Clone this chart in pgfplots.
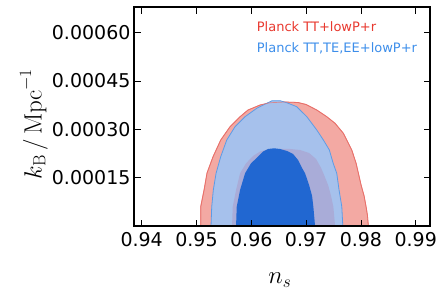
\documentclass[border=0pt]{standalone}
\usepackage{fontspec}
\usepackage{pgfplots}
\pgfplotsset{compat=1.18}
\newfontfamily\dejavu{DejaVu Sans}
\definecolor{redFill}{HTML}{F3A9A3}
\definecolor{redEdge}{HTML}{E8706A}
\definecolor{blueFill}{HTML}{A6C1EC}
\definecolor{blueEdge}{HTML}{5C9CE6}
\definecolor{lav}{HTML}{A9ACD8}
\definecolor{darkBlue}{HTML}{2167D1}
\definecolor{legRed}{HTML}{E8392F}
\definecolor{legBlue}{HTML}{3D8EEA}
\begin{document}
\begin{tikzpicture}
\begin{axis}[
  at={(134pt,74pt)}, anchor=south west,
  scale only axis, width=296pt, height=219pt,
  xmin=0.9386, xmax=0.9926, ymin=0, ymax=0.00068,
  xtick={0.94,0.95,0.96,0.97,0.98,0.99},
  xticklabels={0.94,0.95,0.96,0.97,0.98,0.99},
  ytick={0.00015,0.0003,0.00045,0.0006},
  yticklabels={0.00015,0.00030,0.00045,0.00060},
  scaled y ticks=false, scaled x ticks=false,
  tick align=inside, major tick length=6.5pt,
  tick style={black, line width=0.8pt},
  axis line style={line width=1.5pt},
  ticklabel style={font=\dejavu\fontsize{19}{19}\selectfont},
  xticklabel style={yshift=-2.5pt},
  xlabel={$n_s$},
  ylabel={$k_{\mathrm{B}}\mkern3mu/\mkern3mu\mathrm{Mpc}^{-1}$},
  label style={font=\fontsize{25}{25}\selectfont},
  xlabel style={at={(axis description cs:0.493,-0.262)}, anchor=base},
  ylabel style={at={(axis description cs:-0.312,0.466)}, anchor=base},
  axis on top,
]
% Planck TT+lowP+r, 95%
\addplot[fill=redFill, draw=redEdge, line width=0.8pt] coordinates {
(0.95077,0) (0.95077,5.99e-5) (0.95138,1.118e-4) (0.95192,1.646e-4) (0.95302,2.152e-4)
(0.95442,2.67e-4) (0.95612,3.083e-4) (0.95795,3.394e-4) (0.9594,3.602e-4) (0.9616,3.757e-4)
(0.96342,3.828e-4) (0.96616,3.85e-4) (0.96853,3.835e-4) (0.96999,3.773e-4) (0.97194,3.602e-4)
(0.97377,3.394e-4) (0.97528,3.189e-4) (0.9768,2.878e-4) (0.97742,2.67e-4) (0.97833,2.36e-4)
(0.97912,1.947e-4) (0.97954,1.636e-4) (0.98003,1.273e-4) (0.98058,9.32e-5) (0.98094,5.99e-5)
(0.98118,3.42e-5) (0.98136,0)} -- cycle;
% Planck TT,TE,EE+lowP+r, 95%
\addplot[fill=blueFill, draw=blueEdge, line width=0.8pt] coordinates {
(0.95265,0) (0.95278,5.99e-5) (0.95307,1.118e-4) (0.95357,1.636e-4) (0.95442,2.152e-4)
(0.95552,2.67e-4) (0.95703,3.083e-4) (0.95886,3.394e-4) (0.96099,3.655e-4) (0.96282,3.81e-4)
(0.96379,3.891e-4) (0.96525,3.891e-4) (0.96647,3.828e-4) (0.96829,3.704e-4) (0.97012,3.394e-4)
(0.97194,2.981e-4) (0.97315,2.67e-4) (0.97424,2.36e-4) (0.97492,1.956e-4) (0.97559,1.636e-4)
(0.97601,1.118e-4) (0.97651,5.99e-5) (0.97669,0)} -- cycle;
% red 95% edge over the blue fill
\addplot[draw=redEdge, line width=0.7pt, opacity=0.7] coordinates {
(0.95077,0) (0.95077,5.99e-5) (0.95138,1.118e-4) (0.95192,1.646e-4) (0.95302,2.152e-4)
(0.95442,2.67e-4) (0.95612,3.083e-4) (0.95795,3.394e-4) (0.9594,3.602e-4) (0.9616,3.757e-4)
(0.96342,3.828e-4) (0.96616,3.85e-4) (0.96853,3.835e-4) (0.96999,3.773e-4) (0.97194,3.602e-4)
(0.97377,3.394e-4) (0.97528,3.189e-4) (0.9768,2.878e-4) (0.97742,2.67e-4) (0.97833,2.36e-4)
(0.97912,1.947e-4) (0.97954,1.636e-4) (0.98003,1.273e-4) (0.98058,9.32e-5) (0.98094,5.99e-5)
(0.98118,3.42e-5) (0.98136,0)};
% Planck TT+lowP+r, 68%
\addplot[fill=lav, draw=none] coordinates {
(0.95649,0) (0.95661,5.99e-5) (0.95722,1.118e-4) (0.95795,1.636e-4) (0.95904,1.947e-4)
(0.96032,2.174e-4) (0.9616,2.313e-4) (0.96306,2.382e-4) (0.9647,2.391e-4) (0.96707,2.391e-4)
(0.9689,2.36e-4) (0.97054,2.267e-4) (0.97182,2.08e-4) (0.97273,1.801e-4) (0.97315,1.636e-4)
(0.97401,1.273e-4) (0.97455,9.32e-5) (0.97497,5.99e-5) (0.97528,0)} -- cycle;
% Planck TT,TE,EE+lowP+r, 68%
\addplot[fill=darkBlue, draw=none] coordinates {
(0.95722,0) (0.95734,5.99e-5) (0.95795,1.118e-4) (0.95886,1.636e-4) (0.95995,1.947e-4)
(0.96123,2.152e-4) (0.96214,2.313e-4) (0.96306,2.391e-4) (0.96415,2.413e-4) (0.96525,2.391e-4)
(0.96652,2.329e-4) (0.96762,2.236e-4) (0.96853,2.049e-4) (0.96926,1.801e-4) (0.96981,1.636e-4)
(0.97054,1.273e-4) (0.97109,9.32e-5) (0.97132,5.99e-5) (0.97163,0)} -- cycle;
\node[anchor=base west, text=legRed, font=\dejavu\fontsize{13}{13}\selectfont, inner sep=0pt]
  at (axis description cs:0.4145,0.887) {Planck TT+lowP+r};
\node[anchor=base west, text=legBlue, font=\dejavu\fontsize{13}{13}\selectfont, inner sep=0pt]
  at (axis description cs:0.4145,0.793) {Planck TT,TE,EE+lowP+r};
\end{axis}
\pgfresetboundingbox
\path[use as bounding box] (0,0) rectangle (441pt,300pt);
\end{tikzpicture}
\end{document}
